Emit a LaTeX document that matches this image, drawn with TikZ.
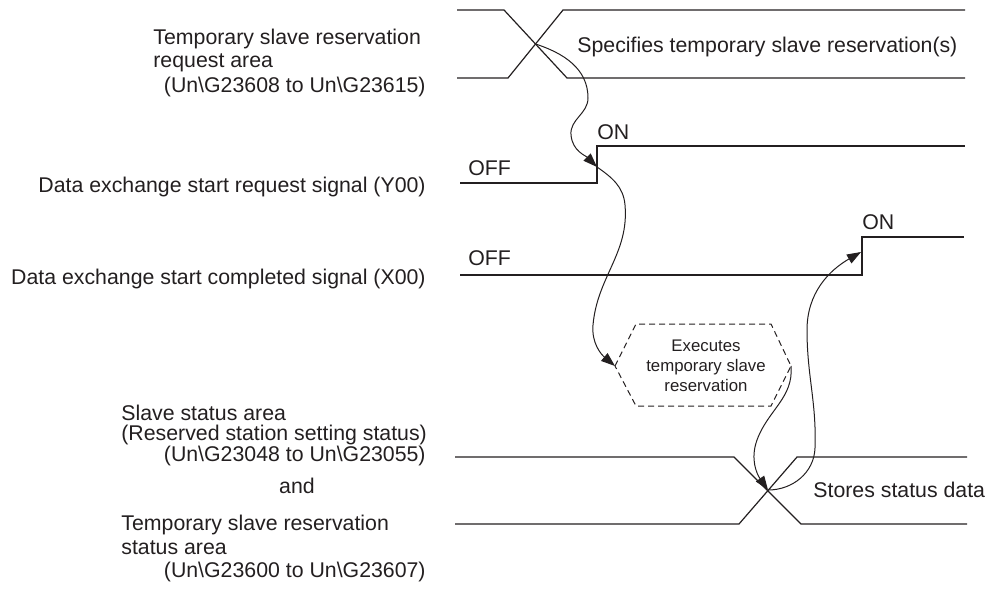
\documentclass[tikz,border=0pt]{standalone}
\usepackage{fontspec}
\setmainfont{Liberation Sans}
\usetikzlibrary{arrows.meta, positioning}
\definecolor{ink}{HTML}{231F20}
\tikzset{
  lbl/.style={inner sep=0pt, font=\fontsize{10.65}{12}\selectfont,
              text height=7.6pt, text depth=0pt, text=ink},
  small/.style={inner sep=0pt, font=\fontsize{8.4}{10}\selectfont, align=center, text=ink},
  sig/.style={line width=0.6pt, line join=miter, ink},
  flow/.style={-{Triangle[length=7pt,width=5pt]}, line width=0.5pt, ink},
  hexa/.style={line width=0.5pt, dash pattern=on 3pt off 2pt, ink},
}
\begin{document}
\begin{tikzpicture}[x=0.5pt, y=-0.5pt]
  \useasboundingbox (0,0) rectangle (994,588);

  % Signal names (left)
  \node[lbl, anchor=west] (req1) at (153,37) {Temporary slave reservation};
  \node[lbl, anchor=west] (req2) at (153,60) {request area};
  \node[lbl, anchor=east] (req3) at (426,85) {(Un\textbackslash G23608 to Un\textbackslash G23615)};
  \node[lbl, anchor=east] (ylbl) at (426,185) {Data exchange start request signal (Y00)};
  \node[lbl, anchor=east] (xlbl) at (426,277) {Data exchange start completed signal (X00)};
  \node[lbl, anchor=west] (st1) at (121,413) {Slave status area};
  \node[lbl, anchor=west] (st2) at (121,433) {(Reserved station setting status)};
  \node[lbl, anchor=east] (st3) at (426,454) {(Un\textbackslash G23048 to Un\textbackslash G23055)};
  \node[lbl] (and) at (297,486) {and};
  \node[lbl, anchor=west] (tmp1) at (121,523) {Temporary slave reservation};
  \node[lbl, anchor=west] (tmp2) at (121,547) {status area};
  \node[lbl, anchor=east] (tmp3) at (426,570) {(Un\textbackslash G23600 to Un\textbackslash G23607)};

  % Request area bus
  \draw[sig] (457,10) -- (504,10) -- (567,78) -- (965,78);
  \draw[sig] (457,78) -- (508,78) -- (563,10) -- (965,10);
  \coordinate (c1) at (535.5,44);
  \node[lbl, anchor=west] (spec) at (577,45) {Specifies temporary slave reservation(s)};

  % Y00
  \draw[sig] (460,183) -- (597,183) -- (597,146) -- (965,146);
  \coordinate (yon) at (597,167);
  \node[lbl, anchor=west] (yoff) at (468,168) {OFF};
  \node[lbl, anchor=west] (yonl) at (597,132) {ON};

  % X00
  \draw[sig] (460,275) -- (862,275) -- (862,237) -- (964,237);
  \coordinate (xon) at (861,252);
  \node[lbl, anchor=west] (xoff) at (468,258) {OFF};
  \node[lbl, anchor=west] (xonl) at (862,222) {ON};

  % Module processing
  \node[small] (exec) at (706,366) {Executes\\temporary slave\\reservation};
  \coordinate (hexW) at (615,366);
  \coordinate (hexE) at (791,366);
  \draw[hexa] (hexW) -- (636,324) -- (771,324) -- (hexE) -- (771,406) -- (636,406) -- cycle;

  % Status area bus
  \draw[sig] (455,457) -- (734,457) -- (801,524) -- (967,524);
  \draw[sig] (455,524) -- (739,524) -- (797,457) -- (967,457);
  \coordinate (c2) at (768,490);
  \node[lbl, anchor=west] (store) at (813,490) {Stores status data};

  % Flow arrows
  \draw[flow] (c1) to[out=-18,in=90] (588,98) to[out=-90,in=95] (571,135)
    to[out=-85,in=135] (yon);
  \draw[flow] (yon) to[out=-35,in=95] (625,205) to[out=-85,in=85] (593,325)
    to[out=-95,in=140] (hexW);
  \draw[flow] (hexE) to[out=-85,in=70] (757,440) to[out=-110,in=125] (c2);
  \draw[flow] (c2) to[out=0,in=-92] (815,448) to[out=88,in=-90] (807,330)
    to[out=90,in=-150] (xon);
\end{tikzpicture}
\end{document}
